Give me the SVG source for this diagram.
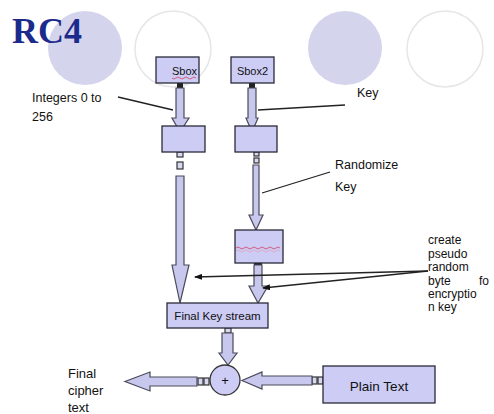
<svg xmlns="http://www.w3.org/2000/svg" width="494" height="414" viewBox="0 0 494 414">
<style>
.bx{fill:#ccccf5;stroke:#2a2a3a;stroke-width:1.3}
.ar{fill:#c8c8ee;stroke:#4a4a5a;stroke-width:1.2}
.cn{fill:#d8d8f0;stroke:#333;stroke-width:1.2}
.dk{fill:#222}
.t{font-family:"Liberation Sans",Arial,sans-serif;fill:#111}
.ln{stroke:#222;stroke-width:1.3;fill:none}
</style>
<defs>
<marker id="ah" markerWidth="8" markerHeight="6" refX="7" refY="3" orient="auto" markerUnits="userSpaceOnUse"><path d="M0,0 L8,3 L0,6 z" fill="#111"/></marker>
</defs>
<rect width="494" height="414" fill="#ffffff"/>
<g id="decor">
<circle cx="85" cy="48" r="37" fill="#d4d4ec"/>
<circle cx="173" cy="49" r="38" fill="none" stroke="#e6e6e6" stroke-width="1.5"/>
<circle cx="345" cy="48" r="37" fill="#d4d4ec"/>
<circle cx="445" cy="49" r="38" fill="none" stroke="#e6e6e6" stroke-width="1.5"/>
<text x="12" y="43" font-family="'Liberation Serif','Times New Roman',serif" font-weight="bold" font-size="36" fill="#1c2a8c">RC4</text>
</g>
<g id="connectors">
<!-- Sbox to box1 -->
<rect class="dk" x="177" y="83" width="6" height="5"/>
<polygon class="ar" points="176,88 184,88 184,118 189,118 180,132 172,118 176,118"/>
<!-- Sbox2 to box2 -->
<rect class="dk" x="249" y="83" width="6" height="5"/>
<polygon class="ar" points="248,88 256,88 256,118 258,118 252,132 246,118 248,118"/>
<!-- box1 to final -->
<rect class="cn" x="177" y="152" width="6" height="5"/>
<rect class="cn" x="177" y="162" width="6" height="7"/>
<polygon class="ar" points="176,176 184,176 184,265 189,265 180,303 172,265 176,265"/>
<!-- box2 to key box -->
<rect class="cn" x="254" y="152" width="5" height="4"/>
<rect class="cn" x="254" y="158" width="5" height="5"/>
<polygon class="ar" points="253,165 259,165 259,215 263,215 256,230 249,215 253,215"/>
<!-- key box to final -->
<rect class="dk" x="254" y="259" width="8" height="6"/>
<polygon class="ar" points="254,265 262,265 262,286 268,286 258,303 249,286 254,286"/>
<!-- final to xor -->
<rect class="cn" x="225" y="328" width="6" height="5"/>
<polygon class="ar" points="222,333 233,333 233,353 237,353 228,365 219,353 222,353"/>
<!-- xor to cipher -->
<rect class="cn" x="198" y="378" width="5" height="7"/>
<rect class="cn" x="204" y="378" width="5" height="7"/>
<polygon class="ar" points="197,377 197,386 150,386 150,391 125,381.5 150,372 150,377"/>
<!-- plain to xor -->
<rect class="cn" x="312" y="377" width="5" height="7"/>
<rect class="cn" x="318" y="377" width="5" height="7"/>
<polygon class="ar" points="312,376 312,385 262,385 262,389 242,380.5 262,372 262,376"/>
<!-- label lines -->
<path class="ln" d="M118,97 L173,110"/>
<path class="ln" d="M345,105 L258,110"/>
<path class="ln" d="M330,172 L262,193"/>
<path class="ln" d="M428,271 L195,277" marker-end="url(#ah)"/>
<path class="ln" d="M428,271 L263,288" marker-end="url(#ah)"/>
</g>
<g id="sbox"><rect class="bx" x="156" y="57" width="43" height="26"/><text class="t" x="197" y="75" font-size="11" text-anchor="end">Sbox</text><path d="M172,78 q2,2 4,0 t4,0 t4,0 t4,0 t4,0 t4,0" stroke="#d04060" stroke-width="0.8" fill="none"/></g>
<g id="sbox2"><rect class="bx" x="231" y="57" width="43" height="26"/><text class="t" x="252.5" y="75" font-size="11" text-anchor="middle">Sbox2</text></g>
<g id="box1"><rect class="bx" x="162" y="126" width="43" height="26"/></g>
<g id="box2"><rect class="bx" x="235" y="126" width="42" height="26"/></g>
<g id="keybox"><rect class="bx" x="235" y="230" width="48" height="33"/>
<path d="M236,248 q2,-2 4,0 t4,0 t4,0 t4,0 t4,0 t4,0 t4,0 t4,0 t4,0 t4,0 t4,0" stroke="#d04060" stroke-width="0.8" fill="none"/>
<path d="M236,251 q2,-2 4,0 t4,0 t4,0 t4,0 t4,0 t4,0 t4,0 t4,0 t4,0 t4,0 t4,0" stroke="#e090a8" stroke-width="0.6" fill="none"/>
</g>
<g id="final"><rect class="bx" x="167" y="303" width="101" height="25"/><text class="t" x="217.5" y="320" font-size="11.5" text-anchor="middle">Final Key stream</text></g>
<g id="xor"><circle cx="225" cy="380" r="15" fill="#ccccf5" stroke="#333" stroke-width="1.3"/><text class="t" x="225" y="384.5" font-size="13" text-anchor="middle">+</text></g>
<g id="plain"><rect class="bx" x="323" y="366" width="112" height="37"/><text class="t" x="379" y="391" font-size="13.5" text-anchor="middle">Plain Text</text></g>
<g id="labels">
<text class="t" x="32" y="102" font-size="12.5">Integers 0 to</text>
<text class="t" x="32" y="121" font-size="12.5">256</text>
<text class="t" x="357" y="97" font-size="12.5">Key</text>
<text class="t" x="335" y="169" font-size="12.5">Randomize</text>
<text class="t" x="335" y="191" font-size="12.5">Key</text>
<text class="t" font-size="12">
<tspan x="428" y="244">create</tspan>
<tspan x="428" y="258">pseudo</tspan>
<tspan x="428" y="271">random</tspan>
<tspan x="428" y="285">byte</tspan><tspan x="479" y="285">fo</tspan>
<tspan x="428" y="298">encryptio</tspan>
<tspan x="428" y="311">n key</tspan>
</text>
<text class="t" font-size="13">
<tspan x="68" y="378">Final</tspan>
<tspan x="68" y="395">cipher</tspan>
<tspan x="68" y="412">text</tspan>
</text>
</g>
</svg>
